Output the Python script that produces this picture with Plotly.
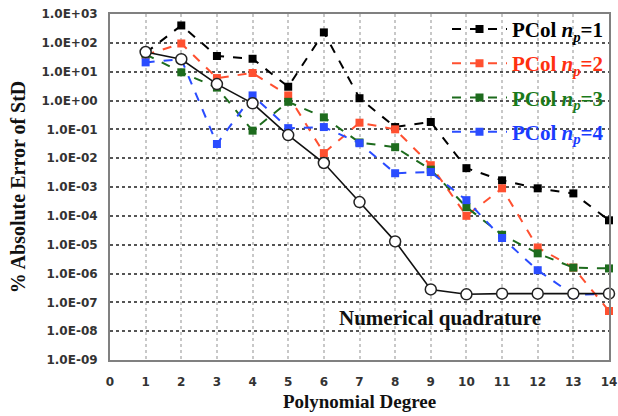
import plotly.graph_objects as go

degrees = list(range(1, 15))
pcol1 = [45, 400, 35, 28, 3.0, 230, 1.2, 0.12, 0.18, 4.5e-3, 1.7e-3, 9e-4, 6e-4, 7e-5]
pcol2 = [38, 95, 6.0, 9.0, 1.5, 0.015, 0.17, 0.10, 5.7e-3, 1.0e-4, 9e-4, 8e-6, 1.6e-6, 5e-8]
pcol3 = [40, 9.5, 2.8, 0.09, 0.9, 0.26, 0.035, 0.024, 4e-3, 2e-4, 2.2e-5, 5e-6, 1.6e-6, 1.5e-6]
pcol4 = [21, 27, 0.031, 1.5, 0.11, 0.12, 0.033, 3e-3, 3.3e-3, 3.5e-4, 1.7e-5, 1.3e-6, 1.8e-7, 2e-7]
quad = [48, 27, 3.7, 0.8, 0.063, 6.8e-3, 3e-4, 1.3e-5, 2.8e-7, 1.9e-7, 2e-7, 2e-7, 2e-7, 2e-7]

series_names = ["1", "2", "3", "4"]
series_vals = [pcol1, pcol2, pcol3, pcol4]
line_colors = ["#000000", "#ff5030", "#1d6b1d", "#2a4cff"]
text_colors = ["#000000", "#ff3010", "#1a7a1a", "#1a3cff"]

ytick_vals = [10.0 ** k for k in range(-9, 4)]
ytick_text = ["1.0E%s%02d" % ("+" if k >= 0 else "-", abs(k)) for k in range(-9, 4)]
xtick_vals = list(range(0, 15))

fig = go.Figure()
for nm, vals, lc, tc in zip(series_names, series_vals, line_colors, text_colors):
    fig.add_trace(go.Scatter(
        x=degrees, y=vals, mode="lines+markers",
        name=f"<span style='color:{tc}'><b>PCol <i>n</i><sub><i>p</i></sub>=" + nm + "</b></span>",
        legendgroup="g" + nm,
        line=dict(color=lc, width=2, dash="dash"),
        marker=dict(symbol="square", size=8, color=lc),
        cliponaxis=False,
    ))

fig.add_trace(go.Scatter(
    x=degrees, y=quad, mode="lines+markers", showlegend=False,
    line=dict(color="#111111", width=1.6),
    marker=dict(symbol="circle", size=11, color="white", line=dict(color="#222222", width=1.5)),
    cliponaxis=False,
))

fig.add_annotation(x=9.25, y=-7.55, text="<b>Numerical quadrature</b>", showarrow=False,
                   font=dict(family="Liberation Serif", size=21, color="#111111"))

fig.update_layout(
    width=618, height=416,
    margin=dict(l=110, r=9, t=14, b=56, autoexpand=False),
    paper_bgcolor="white", plot_bgcolor="white",
    showlegend=True,
    legend=dict(x=1.0, y=1.015, xanchor="right", yanchor="top", bgcolor="rgba(0,0,0,0)",
                font=dict(family="Liberation Serif", size=21), tracegroupgap=4,
                itemwidth=55),
)
fig.update_xaxes(
    range=[0, 14], tickvals=xtick_vals, ticktext=[str(v) for v in xtick_vals],
    showgrid=True, gridcolor="#c8c8c8", griddash="dot", gridwidth=1.5,
    showline=True, linecolor="#808080", linewidth=2, mirror=True,
    ticks="", ticklabelstandoff=10, automargin=False,
    tickfont=dict(family="DejaVu Sans", size=12, color="#333333", weight="bold"),
    title=dict(text="<b>Polynomial Degree</b>", font=dict(family="Liberation Serif", size=19, color="#111111"), standoff=6),
    zeroline=False,
)
fig.update_yaxes(
    type="log", range=[-9, 3], tickvals=ytick_vals, ticktext=ytick_text,
    showgrid=True, gridcolor="#555555", griddash="dot", gridwidth=1.5,
    showline=True, linecolor="#808080", linewidth=2, mirror=True,
    ticks="", ticklabelstandoff=8, automargin=False,
    tickfont=dict(family="DejaVu Sans", size=12, color="#333333", weight="bold"),
    title=dict(text="<b>% Absolute Error of StD</b>", font=dict(family="Liberation Serif", size=20, color="#111111"), standoff=10),
    zeroline=False,
)

fig.write_html("out.html")
